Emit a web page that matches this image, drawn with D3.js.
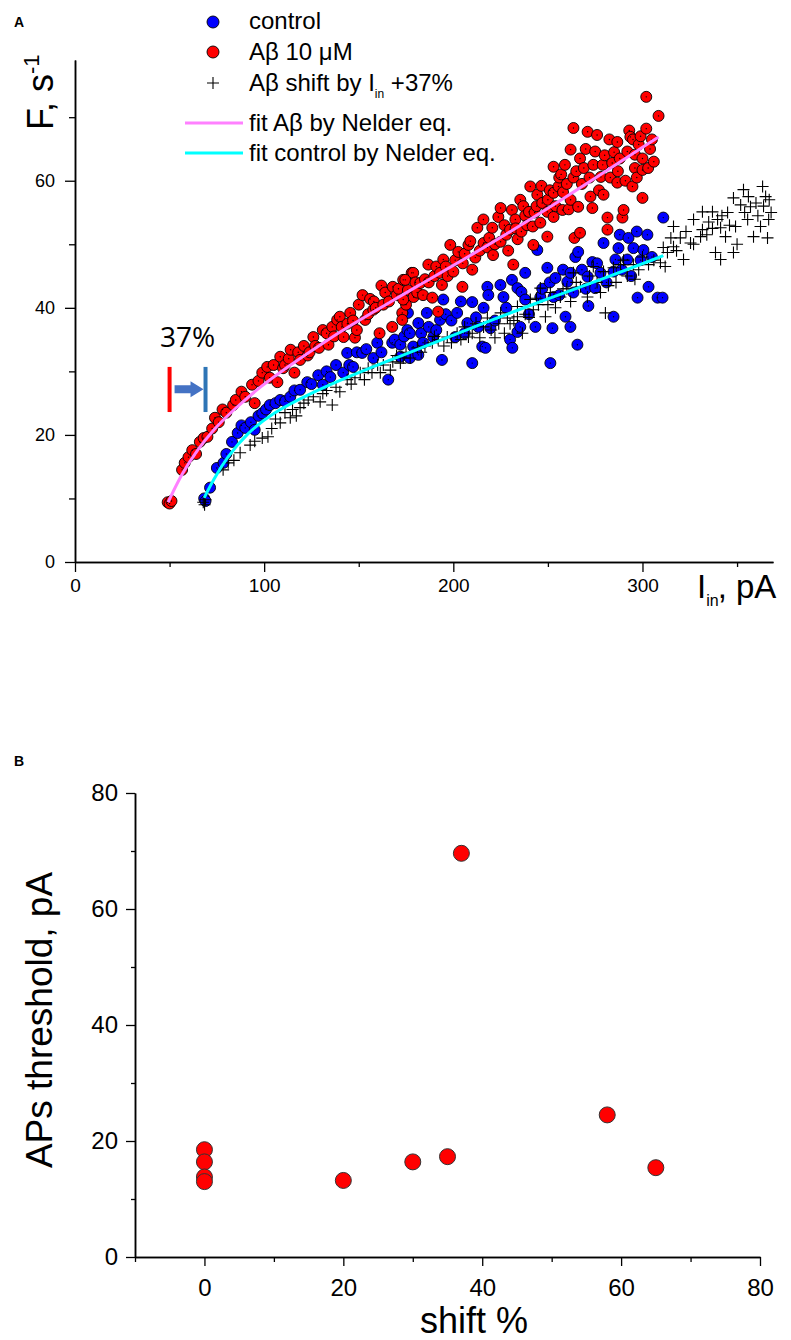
<!DOCTYPE html>
<html>
<head>
<meta charset="utf-8">
<script src="https://cdn.jsdelivr.net/npm/d3@7"></script>
<style>
body { margin: 0; background: #fff; }
svg { display: block; font-family: "Liberation Sans", Arial, sans-serif; }
</style>
</head>
<body>
<svg id="chart"></svg>
<script>
// ---- panel A data: [I_in (pA), F (1/s)] ----
var abetaPoints = [
  [49,9.4],[50,9.2],[51,9.6],[56.6,14.5],[58,15.6],[60,16.5],[62,17.6],[64,17],[66,18.9],[68,19.5],[70,19.7],[72.5,21],
  [74,22.7],[76,22],[78,24],[80,23.5],[83.6,24.7],[85,25.5],[88,26.8],[90,26],[93.6,27.9],[95,25],[97,28.5],[99,29.8],
  [101.6,30.7],[103,29],[105,31],[107,28.3],[108.5,32.3],[110,30.5],[111,31],[113,32],[114,33.4],[116,29.8],[118,33],
  [119,31.8],[121,34],[123,32.5],[124,33],[126,35.4],[127,34],[129,33.7],[131,36.5],[133,36],[134,34.2],[136,37],
  [137,35.5],[138.6,38.1],[140,38.6],[141,37],[142,35.4],[144,37.5],[145.5,39.2],[147,38],[148,35.3],[149,36.5],
  [150,40.5],[152,42],[153.4,38.1],[155,39],[156,41.4],[157.7,39.7],[158,41],[159,40],[161,36],[162,43.5],[163,40.5],
  [164,42.4],[166,41],[167.7,37],[168,43.3],[170,42],[171,43],[173,39.2],[173.5,44.4],[175,40.5],[176,42.8],[178,45.5],
  [179,41.7],[173,38.1],[173.5,41.3],[174.6,44.4],[178.8,45.5],[180,44],[180.9,42.4],[182.5,43.9],[184,42],[185,44.5],
  [186.8,46.8],[187,44],[188.9,41.6],[190,45],[191,46.5],[192,39.4],[193,45.5],[194,43.6],[194.7,47.6],[196,46.5],
  [197,45],[198.4,49.9],[200,45.7],[201,47.5],[202.6,48.8],[204.8,43.3],[205,47],[206,48.5],[208,49.9],[209,50.5],
  [210,46],[211.6,47.9],[212.7,52.6],[214,49],[215.9,53.9],[216,50.2],[218,49.5],[219,51],[220.6,52.6],[221,48.3],
  [222,50],[223.8,54.3],[225,50.4],[225,55.7],[227,53],[228,51.5],[229,49],[230,52.3],[231,55.4],[231.7,46.8],
  [232.8,53.9],[233,52.5],[234,50.8],[235.4,57],[236,52],[237,56],[238,54.5],[239,53],[240,55.1],[240.7,59.1],[242,52.8],
  [242.3,49.9],[243,55],[244,56],[244.4,57.8],[246,53.4],[246.6,59.2],[247,56.5],[249.7,51.2],[249.7,55.1],[250,57],
  [251,58.5],[253,54.3],[253,58.1],[253,62.2],[254,56],[255.6,59.1],[256,60.5],[257,61],[257.7,55.4],[258,58.2],
  [259,62.5],[260,59.5],[261,55.5],[262,57],[262,64.9],[263.5,60.5],[263.5,68.3],[264,51],[265,61.5],[266,55.9],
  [267,51.8],[267,63.5],[268,59.5],[269,62],[270,65],[271,67.7],[272,60.5],[272.5,57.5],[273.5,55.7],[274,62.5],
  [275,64.6],[276,67.2],[277,58.5],[278,60.6],[279,62.5],[279.4,57.8],[280,64],[281.5,52.3],[281.5,54.2],[282.5,66.5],
  [283,60.5],[284,62.8],[285,64.5],[286.7,59.7],[286.7,66.1],[287,61.5],[288,63.5],[289.4,54.2],[290,55.4],[291,60],
  [292,64.6],[293,67.9],[293.6,66.9],[294.7,59.1],[295,66.5],[296,62],[296,64.1],[297,60.5],[298,65.7],[299,67],
  [300,57.3],[300,61.7],[300,63.5],[302,68.2],[302,73.2],[303,62],[304,65],[305,66.5],[306,63],[308.5,70.2]
];
var controlPoints = [
  [68.3,10],[69,9.6],[71.4,11.7],[75,14.8],[78.5,15.6],[80,17],[83,18.9],[86,20.3],[88,21.5],[90,21.1],[93,22],[95,20.8],
  [97,23],[99,23.4],[101,24],[103,24.7],[106,25],[108.5,25.5],[111,25.3],[113.8,26],[116,27],[119,27.1],[122.8,28.3],
  [125,28],[128.6,29.4],[131,27.9],[133,30],[135,29.1],[138,31],[141.8,29.8],[143.9,32.9],[145,31],[147,30.7],[149,33],
  [151.8,32.9],[154,33.5],[157.7,32.1],[159.8,34.5],[162,33],[165.6,28.7],[167.7,34.5],[169,35],[172,32.3],[172,34.2],
  [174,35.5],[175.7,36.5],[176,39.2],[177,36],[177,32.1],[178.8,33.9],[181.5,37.6],[181.5,32.6],[183,36],[184,34.5],
  [186,39.2],[187,37],[189.4,35.4],[191,36.5],[193,38.1],[194,31.8],[194.7,41.3],[196,39],[199,38],[201,35.4],[202,39.2],
  [204,41],[206,36],[207.4,37.6],[210,40.9],[210,31.3],[212,38.5],[213.2,37],[215.3,33.9],[216,40],[217,33.7],[218,43.3],
  [218.5,42],[219.6,36.8],[222,38],[224.9,43.6],[226.5,41.7],[228,40],[230,35],[231,44.4],[231.2,33.7],[233.9,43.1],
  [233.9,36.2],[235.4,37],[236,42.5],[238,45.5],[238,41.3],[240,39],[243.4,37],[244.4,49.1],[246,41.7],[247,43],
  [249.7,46.3],[251,44],[251.3,31.3],[252.4,36.8],[253,41.7],[254,44.7],[256,42],[258,46],[259.3,38.6],[260.3,44.1],
  [261.9,37],[262,45.5],[263.5,42.4],[264.5,48],[265.6,34.2],[266,48.8],[268,46],[270,43],[271,44.9],[271.4,40.3],
  [273.5,47.2],[275,43.1],[276,47],[277.8,45.5],[279.4,50.2],[281,44],[284.7,45.7],[284.7,38.6],[285.7,47.6],[287.3,49.4],
  [288,51.5],[289,46],[292,47.6],[292.6,51],[294,45],[295.2,49.4],[297,52],[297.4,41.6],[299,47.5],[300.5,49.1],
  [302.6,51.5],[303.2,43.3],[305,48],[308,41.6],[310.6,41.6],[311,54.2]
];
var shiftedPoints = [
  [67.8,9.4],[68.5,9.0],[69,9.8],[78.3,14.5],[81,15.6],[84,16],[87.3,17.2],[92.6,18.4],[95,19],[99,19.5],[102,19.7],
  [104,21],[106,22.5],[108.5,21.9],[111,23.5],[113.8,22.7],[115,24],[117,23],[119,24.3],[121,25],[123.3,25.5],[126,26],
  [129.6,25.2],[131,26.5],[133,27],[136,24.7],[138,27.5],[140,26.8],[143.9,28.7],[146,28],[148,29],[150.8,29.8],[153,28.7],
  [155,30.5],[157,29.8],[160,31],[161.4,29.8],[163,31],[166.7,30.2],[168,31.5],[170,32.5],[172,31.3],[173.5,32.1],
  [175,33],[177.2,32.1],[181,33.7],[183,33],[185,34],[188.9,34.5],[190,35.5],[192,35],[195,34],[196.8,35.4],[199,34.5],
  [202,36],[204,35],[206,37],[208,35.4],[210,36],[212,37.5],[214,35.3],[216,37],[218,38.4],[220,36.5],[222,35.3],
  [224,37.5],[225,39.2],[227,36],[228.6,38.4],[230,37.5],[232,38],[233.9,38.6],[233.9,40.2],[236.5,36],[238,39],
  [240,38.5],[240.7,41.3],[242.3,39.7],[244,41.5],[245,40.5],[246,43.1],[248.7,38.6],[250,40.5],[251.3,42.4],[254,40],
  [256.6,41.7],[258,43],[260,43],[262,41],[263.5,45.5],[265,44],[267.2,43.3],[270.9,41.7],[272,45],[274,46.5],[276,44],
  [277.8,42.4],[279.4,45.7],[280.4,39.2],[282,43.5],[284.7,46.3],[286,44],[288.4,46.8],[290,47.5],[292,45],[295.2,46.8],
  [296,44.5],[298,46],[300,48],[303.2,46.8],[306,47.5],[309.5,47.1],[311,49.5],[312,46.5],[313.2,48.7],[315,51],
  [316.4,49.6],[316.4,52.8],[318,49],[320,51],[321.7,47.6],[323,52],[325.4,50.2],[327,53.9],[327,50],[330.7,51.2],
  [331.7,55.1],[331.7,52.3],[334,51.5],[335,53.5],[337,55.1],[337,52.5],[338.6,48.7],[339.7,53.9],[341.3,52.6],
  [341.3,47.6],[342,54.5],[343.9,51.2],[345,55],[346,53],[348.1,48.7],[348.1,57.3],[349.2,52.8],[350,50],[351.9,56.2],
  [353.4,58.6],[354,55],[355.6,53.9],[356,57.5],[357.1,55.9],[358.7,51.2],[360,56.5],[361,54.5],[362.4,52.8],[363.5,59.1],
  [364,56],[365.1,57.5],[366.1,51],[366.7,53.9],[367,57],[368,55]
];
var fitAbeta = [
  [49.2,9.4],[56.6,14],[64.6,17.6],[73,20.8],[83.6,23.9],[97.9,27.6],[113.8,31],[129.6,34.2],[145.5,37.2],
  [161.4,40],[178,42.9],[214.3,49.1],[256.6,56.8],[308.5,66.9]
];
var fitControl = [
  [68.3,10.1],[73,12.9],[80.4,16.5],[91,20.3],[104.8,23.5],[122.8,26.3],[143.9,29.1],[166.7,31.8],[182.5,33.6],
  [207.4,36.6],[242.3,40.6],[277.8,44.4],[311,48.2]
];
var thresholdShift = [50, 69];   // I_in thresholds marked by the 37% arrow

var xTicksA = [0, 100, 200, 300];
var xMinorA = [50, 150, 250, 350];
var yTicksA = [0, 20, 40, 60];
var yMinorA = [10, 30, 50, 70];

// ---- panel B data: shift %, AP threshold (pA) ----
var shiftPct = [0, 0, 0, 0, 20, 30, 35, 37, 58, 65];
var apThreshold = [18.5, 16.4, 13.8, 13, 13.2, 16.4, 17.3, 69.6, 24.5, 15.4];
var xTicksB = [0, 20, 40, 60, 80];
var xMinorB = [-10, 10, 30, 50, 70];
var yTicksB = [0, 20, 40, 60, 80];
var yMinorB = [10, 30, 50, 70];

var svg = d3.select("#chart").attr("width", 791).attr("height", 1340);

function styleAxis(g, fontSize) {
  g.select(".domain").attr("stroke", "#000").attr("stroke-width", 1.5);
  g.selectAll(".tick line").attr("stroke", "#000").attr("stroke-width", 1.3);
  g.selectAll(".tick text").attr("fill", "#000").style("font-size", fontSize + "px");
}

// ================= Panel A =================
var xA = d3.scaleLinear().domain([0, 369]).range([75, 773]);
var yA = d3.scaleLinear().domain([0, 79]).range([562, 60]);

svg.append("text").attr("x", 14).attr("y", 27).style("font-size", "14px").style("font-weight", "bold").text("A");

var gxA = svg.append("g").attr("transform", "translate(0," + yA(0) + ")");
gxA.call(d3.axisBottom(xA).tickValues(xMinorA).tickFormat("").tickSize(5).tickSizeOuter(0));
styleAxis(gxA, 19);
var gxA2 = svg.append("g").attr("transform", "translate(0," + yA(0) + ")");
gxA2.call(d3.axisBottom(xA).tickValues(xTicksA).tickSize(10).tickPadding(7).tickSizeOuter(0));
styleAxis(gxA2, 19);

var gyA = svg.append("g").attr("transform", "translate(" + xA(0) + ",0)");
gyA.call(d3.axisLeft(yA).tickValues(yMinorA).tickFormat("").tickSize(6).tickSizeOuter(0));
styleAxis(gyA, 18);
var gyA2 = svg.append("g").attr("transform", "translate(" + xA(0) + ",0)");
gyA2.call(d3.axisLeft(yA).tickValues(yTicksA).tickSize(10).tickPadding(10).tickSizeOuter(0));
styleAxis(gyA2, 18);

// axis titles
var fLabel = svg.append("text").attr("transform", "translate(53,130) rotate(-90)").style("font-size", "36px");
fLabel.append("tspan").text("F, s");
fLabel.append("tspan").attr("dy", -14).style("font-size", "22px").text("-1");

var iLabel = svg.append("text").attr("x", 697).attr("y", 598).style("font-size", "33px");
iLabel.append("tspan").text("I");
iLabel.append("tspan").attr("dy", 8).style("font-size", "16px").text("in");
iLabel.append("tspan").attr("dy", -8).attr("dx", -1).text(", pA");

// points
function drawCircles(data, color, r) {
  var g = svg.append("g");
  g.selectAll("circle").data(data).enter().append("circle")
    .attr("cx", d => xA(d[0])).attr("cy", d => yA(d[1])).attr("r", r)
    .attr("fill", color).attr("stroke", "#000").attr("stroke-width", 0.9);
  g.selectAll("circle.dot").data(data).enter().append("circle").attr("class", "dot")
    .attr("cx", d => xA(d[0])).attr("cy", d => yA(d[1])).attr("r", 0.7).attr("fill", "#000");
}
drawCircles(controlPoints, "#0000ff", 5.5);
drawCircles(abetaPoints, "#ff0000", 5.5);

svg.append("g").selectAll("path").data(shiftedPoints).enter().append("path")
  .attr("d", "M-6,0H6M0,-6V6")
  .attr("transform", d => "translate(" + xA(d[0]) + "," + yA(d[1]) + ")")
  .attr("stroke", "#000").attr("stroke-width", 1.1).attr("fill", "none");

var lineA = d3.line().x(d => xA(d[0])).y(d => yA(d[1])).curve(d3.curveBasis);
svg.append("path").datum(fitAbeta).attr("d", lineA).attr("fill", "none").attr("stroke", "#ff80ff").attr("stroke-width", 3);
svg.append("path").datum(fitControl).attr("d", lineA).attr("fill", "none").attr("stroke", "#00ffff").attr("stroke-width", 3);

// 37% annotation
svg.append("text").attr("x", 160).attr("y", 347).style("font-family", "'Open Sans', sans-serif").style("font-size", "28px").text("37%");
svg.append("line").attr("x1", xA(thresholdShift[0])).attr("x2", xA(thresholdShift[0]))
  .attr("y1", yA(30.7)).attr("y2", yA(23.6)).attr("stroke", "#ff0000").attr("stroke-width", 4);
svg.append("line").attr("x1", xA(thresholdShift[1])).attr("x2", xA(thresholdShift[1]))
  .attr("y1", yA(30.7)).attr("y2", yA(23.6)).attr("stroke", "#2e75b6").attr("stroke-width", 4);
var ay = yA(27.2), ax0 = xA(thresholdShift[0]) + 5, ax1 = xA(thresholdShift[1]) - 2;
svg.append("path")
  .attr("d", "M" + ax0 + "," + (ay - 4) + "H" + (ax1 - 13) + "V" + (ay - 8) + "L" + ax1 + "," + ay +
             "L" + (ax1 - 13) + "," + (ay + 8) + "V" + (ay + 4) + "H" + ax0 + "Z")
  .attr("fill", "#4472c4");

// legend
var legend = svg.append("g").style("font-size", "24px");
legend.append("circle").attr("cx", 213).attr("cy", 22).attr("r", 6).attr("fill", "#0000ff").attr("stroke", "#000").attr("stroke-width", 0.9);
legend.append("text").attr("x", 249).attr("y", 29).text("control");
legend.append("circle").attr("cx", 213).attr("cy", 52).attr("r", 6).attr("fill", "#ff0000").attr("stroke", "#000").attr("stroke-width", 0.9);
legend.append("text").attr("x", 249).attr("y", 60).text("A\u03B2 10 \u03BCM");
legend.append("path").attr("d", "M207,83H219M213,77V89").attr("stroke", "#000").attr("stroke-width", 1.1);
var lt = legend.append("text").attr("x", 249).attr("y", 91);
lt.append("tspan").text("A\u03B2 shift by I");
lt.append("tspan").attr("dy", 7).style("font-size", "12px").text("in");
lt.append("tspan").attr("dy", -7).text(" +37%");
legend.append("line").attr("x1", 185).attr("x2", 243).attr("y1", 123).attr("y2", 123).attr("stroke", "#ff80ff").attr("stroke-width", 3);
legend.append("text").attr("x", 249).attr("y", 131).text("fit A\u03B2 by Nelder eq.");
legend.append("line").attr("x1", 185).attr("x2", 243).attr("y1", 153).attr("y2", 153).attr("stroke", "#00ffff").attr("stroke-width", 3);
legend.append("text").attr("x", 249).attr("y", 161).text("fit control by Nelder eq.");

// ================= Panel B =================
var xB = d3.scaleLinear().domain([-10, 80]).range([135, 760]);
var yB = d3.scaleLinear().domain([0, 80]).range([1257, 793]);

svg.append("text").attr("x", 14).attr("y", 766).style("font-size", "14px").style("font-weight", "bold").text("B");

var gxB = svg.append("g").attr("transform", "translate(0," + yB(0) + ")");
gxB.call(d3.axisBottom(xB).tickValues(xMinorB).tickFormat("").tickSize(5).tickSizeOuter(0));
styleAxis(gxB, 24);
var gxB2 = svg.append("g").attr("transform", "translate(0," + yB(0) + ")");
gxB2.call(d3.axisBottom(xB).tickValues(xTicksB).tickSize(9).tickPadding(13).tickSizeOuter(0));
styleAxis(gxB2, 24);

var gyB = svg.append("g").attr("transform", "translate(" + xB(-10) + ",0)");
gyB.call(d3.axisLeft(yB).tickValues(yMinorB).tickFormat("").tickSize(4).tickSizeOuter(0));
styleAxis(gyB, 24);
var gyB2 = svg.append("g").attr("transform", "translate(" + xB(-10) + ",0)");
gyB2.call(d3.axisLeft(yB).tickValues(yTicksB).tickSize(9).tickPadding(8).tickSizeOuter(0));
styleAxis(gyB2, 24);

svg.append("text").attr("transform", "translate(52,1020) rotate(-90)").attr("text-anchor", "middle")
  .style("font-size", "37px").text("APs threshold, pA");
svg.append("text").attr("x", 474).attr("y", 1333).attr("text-anchor", "middle")
  .style("font-size", "36px").text("shift %");

svg.append("g").selectAll("circle").data(shiftPct).enter().append("circle")
  .attr("cx", d => xB(d)).attr("cy", (d, i) => yB(apThreshold[i])).attr("r", 8)
  .attr("fill", "#ff0000").attr("stroke", "#333").attr("stroke-width", 1);
</script>
</body>
</html>
